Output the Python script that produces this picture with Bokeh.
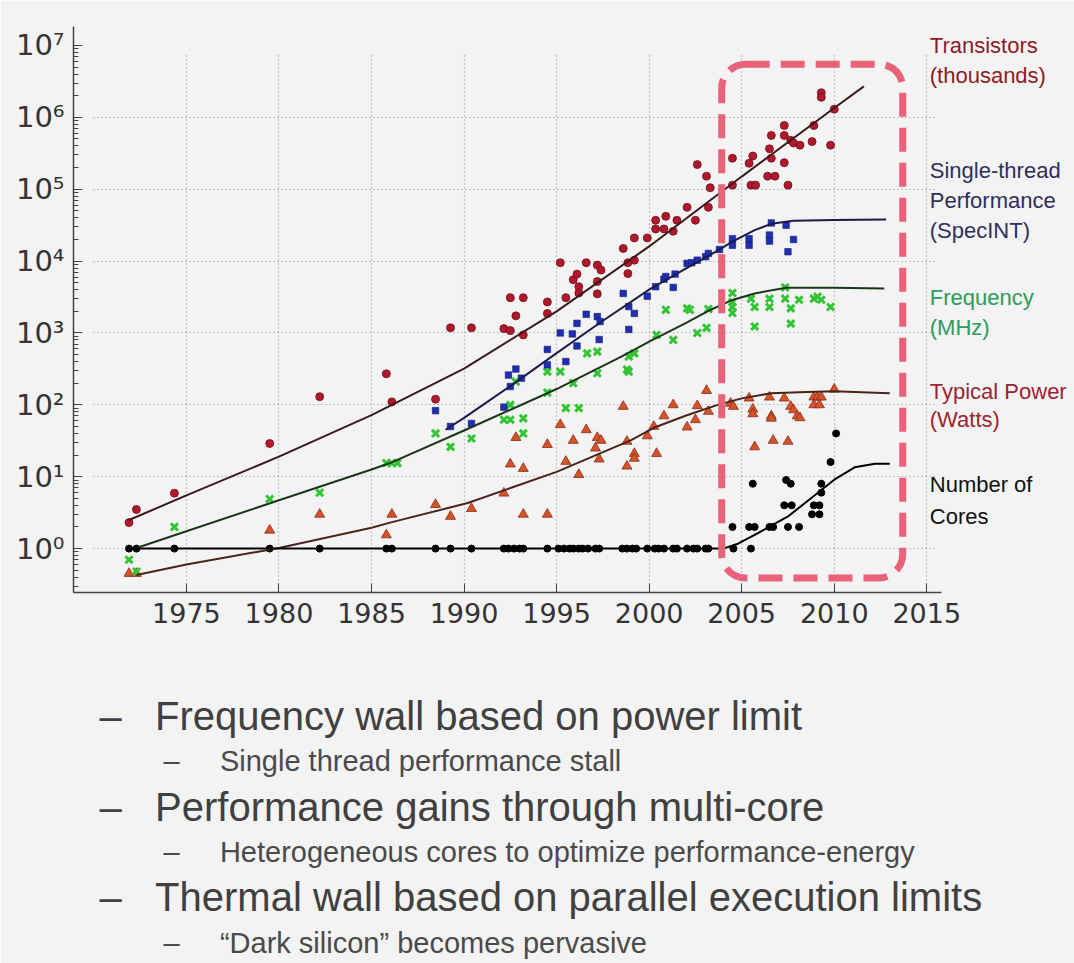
from bokeh.plotting import figure
from bokeh.models import FixedTicker, BoxAnnotation, Label, Range1d, Title, LinearAxis
from bokeh.embed import file_html
from bokeh.resources import INLINE

# ---------------- data ----------------
transistors = [
    (1971.9, 2.3), (1972.3, 3.5), (1974.35, 5.9), (1979.5, 29), (1982.2, 130), (1985.8, 270),
    (1986.1, 110), (1988.46, 120), (1989.27, 1180), (1990.4, 1180), (1992.15, 1150), (1992.5, 1080),
    (1993.2, 940), (1992.5, 3100), (1993.2, 3100), (1992.8, 1730), (1994.5, 2700), (1994.5, 1870),
    (1995.2, 9500), (1995.5, 3100), (1995.9, 5500), (1996.1, 6600), (1996.2, 4400), (1996.2, 3600),
    (1996.6, 9500), (1997.2, 8800), (1997.4, 7500), (1997.2, 5200), (1997.2, 3500), (1998.6, 15000),
    (1998.85, 9500), (1998.85, 6700), (1999.2, 21000), (1999.9, 21000), (1999.2, 10300),
    (2000.35, 37000), (2000.8, 28000), (2000.35, 28000), (2000.9, 42000), (2001.3, 26000),
    (2001.5, 37000), (2002.05, 56000), (2002.5, 37000), (2002.6, 220000), (2003.1, 152000),
    (2003.3, 105000), (2003.2, 56000), (2004.5, 270000), (2004.5, 114000), (2005.4, 230000),
    (2005.6, 290000), (2005.5, 114000), (2005.75, 114000), (2006.5, 365000), (2006.6, 270000),
    (2006.4, 152000), (2006.8, 152000), (2006.6, 560000), (2007.3, 770000), (2007.3, 560000),
    (2007.65, 480000), (2007.8, 440000), (2008.15, 410000), (2007.3, 234000), (2007.5, 114000),
    (2008.8, 460000), (2008.9, 770000), (2009.3, 2200000), (2009.3, 1900000), (2009.8, 410000),
    (2010.0, 1300000),
]
single_thread = [
    (1988.46, 83), (1989.27, 50), (1990.4, 55), (1992.4, 260), (1992.8, 315), (1993.1, 235),
    (1992.5, 180), (1992.15, 93), (1994.5, 360), (1995.5, 400), (1995.2, 1000), (1995.85, 970),
    (1996.1, 1360), (1996.6, 1820), (1997.2, 1690), (1997.35, 1440), (1996.1, 660), (1997.3, 810),
    (1994.5, 590), (1998.6, 3550), (1998.9, 2330), (1998.9, 1120), (1999.2, 1870), (1999.9, 3250),
    (2000.35, 4400), (2000.8, 5600), (2000.9, 6100), (2001.3, 4300), (2001.4, 6600), (2002.05, 9300),
    (2002.3, 9500), (2002.6, 10300), (2003.05, 11500), (2003.2, 12800), (2003.8, 14500),
    (2004.5, 20500), (2004.5, 16600), (2005.4, 20500), (2005.4, 16600), (2006.5, 23000),
    (2006.5, 19000), (2006.6, 34000), (2007.4, 31600), (2007.5, 13500), (2007.8, 20000),
]
frequency = [
    (1971.9, 0.7), (1972.3, 0.48), (1974.35, 2.0), (1979.5, 4.9), (1982.2, 6.0), (1985.8, 15.5),
    (1986.1, 15.5), (1986.4, 15.5), (1988.46, 40), (1989.27, 26), (1990.4, 34), (1992.15, 62),
    (1992.5, 62), (1992.5, 100), (1993.2, 65), (1993.2, 40), (1992.8, 210), (1994.5, 290),
    (1994.5, 148), (1995.2, 290), (1995.5, 90), (1996.2, 90), (1995.9, 200), (1996.65, 520),
    (1997.2, 550), (1997.2, 275), (1998.8, 310), (1998.9, 470), (1998.9, 290), (1999.2, 520),
    (2000.4, 940), (2001.3, 800), (2000.9, 2100), (2002.05, 2200), (2002.2, 2100), (2002.6, 1000),
    (2003.1, 1180), (2003.2, 2150), (2004.5, 3600), (2004.5, 2700), (2004.5, 2300), (2004.5, 1900),
    (2005.5, 3000), (2005.7, 2300), (2005.7, 1230), (2006.5, 3000), (2006.5, 2300), (2007.35, 4300),
    (2007.35, 3000), (2007.65, 2200), (2008.1, 2900), (2007.65, 1350), (2008.9, 3000),
    (2009.1, 3200), (2009.3, 2900), (2009.8, 2300),
]
power = [
    (1971.9, 0.45), (1972.3, 0.45), (1979.5, 1.8), (1982.2, 3.0), (1985.8, 1.55), (1986.1, 3.0),
    (1988.46, 4.1), (1989.27, 2.8), (1990.4, 3.6), (1992.15, 5.9), (1992.5, 15), (1993.2, 13),
    (1992.8, 35), (1993.2, 3.0), (1994.5, 28), (1994.5, 3.0), (1995.2, 53), (1995.5, 16.3),
    (1995.9, 32), (1996.2, 10.7), (1996.6, 45), (1997.1, 25), (1997.2, 35), (1997.4, 32),
    (1997.3, 17.6), (1998.6, 95), (1998.8, 31), (1998.8, 14), (1999.2, 21), (1999.2, 18),
    (1999.9, 37), (2000.4, 21), (2000.25, 50), (2000.8, 70), (2001.3, 100), (2002.05, 49),
    (2002.5, 62), (2002.6, 97), (2003.1, 158), (2003.2, 81), (2004.4, 105), (2004.55, 95),
    (2005.4, 124), (2005.6, 87), (2005.6, 75), (2005.7, 26), (2006.5, 128), (2006.6, 70),
    (2006.6, 65), (2006.7, 32), (2007.3, 124), (2007.5, 31), (2007.65, 95), (2007.8, 85),
    (2008.0, 70), (2008.15, 66), (2008.9, 128), (2009.1, 128), (2009.3, 128), (2008.9, 100),
    (2009.2, 100), (2010.0, 165),
]
cores = [
    (1971.9, 1), (1972.3, 1), (1974.35, 1), (1979.5, 1), (1982.2, 1), (1985.8, 1), (1986.1, 1),
    (1988.46, 1), (1989.27, 1), (1990.4, 1), (1992.15, 1), (1992.4, 1), (1992.7, 1), (1993.0, 1),
    (1993.2, 1), (1994.5, 1), (1995.1, 1), (1995.4, 1), (1995.7, 1), (1995.9, 1), (1996.2, 1),
    (1996.4, 1), (1996.7, 1), (1997.1, 1), (1997.3, 1), (1998.55, 1), (1998.8, 1), (1999.1, 1),
    (1999.3, 1), (1999.9, 1), (2000.3, 1), (2000.5, 1), (2000.8, 1), (2001.3, 1), (2001.5, 1),
    (2002.05, 1), (2002.4, 1), (2002.6, 1), (2003.05, 1), (2003.2, 1), (2004.55, 1), (2005.5, 1),
    (2004.5, 2), (2005.4, 2), (2005.7, 2), (2006.5, 2), (2006.7, 2), (2007.5, 2), (2008.1, 2),
    (2005.6, 8), (2007.4, 9), (2007.65, 8), (2007.3, 4), (2007.7, 4), (2008.9, 4), (2009.2, 4),
    (2008.8, 3), (2009.2, 3), (2009.3, 8), (2009.3, 6), (2009.8, 16), (2010.1, 40),
]

# trend curves
trans_trend = [(1971.9, 2.5), (1975, 5.5), (1980, 19), (1985, 72), (1990, 320), (1995, 2000),
               (2000, 16000), (2005, 150000), (2010, 1350000), (2011.6, 2700000)]
single_trend = [(1989.0, 45), (1990, 66), (1992.5, 182), (1995, 525), (1997.5, 1480), (2000, 4000),
                (2002, 7900), (2003.7, 14000), (2004.5, 18600), (2005.7, 27000), (2006.6, 33000),
                (2007.8, 36300), (2010, 37200), (2012.8, 38000)]
freq_trend = [(1972.3, 1.02), (1975, 1.74), (1980, 4.7), (1985, 12.6), (1986, 15.5), (1990, 44),
              (1995, 166), (1998.5, 470), (2000, 760), (2002, 1380), (2003.3, 2090), (2004.5, 2880),
              (2005.7, 3550), (2007.4, 4270), (2010, 4270), (2012.7, 4170)]
power_trend = [(1972.3, 0.43), (1975, 0.6), (1980, 1.02), (1985, 1.95), (1986, 2.3), (1990.2, 4.3),
               (1995, 11.7), (1999, 32), (2000.25, 48), (2002, 71), (2003.7, 100), (2005, 123),
               (2006.6, 145), (2008.5, 151), (2010, 155), (2013, 145)]
cores_trend = [(1971.9, 1), (2004.0, 1), (2004.8, 1.17), (2005.7, 1.55), (2007.5, 2.8),
               (2008.9, 5.4), (2010, 9.1), (2011.1, 13.5), (2012.2, 15.1), (2013, 15.1)]

x_ticks = [1975, 1980, 1985, 1990, 1995, 2000, 2005, 2010, 2015]
y_ticks = [1, 10, 100, 1000, 10000, 100000, 1000000, 10000000]
y_tick_labels = ["10⁰", "10¹", "10²", "10³", "10⁴", "10⁵", "10⁶", "10⁷"]

series_labels = [
    ["Transistors", "(thousands)"],
    ["Single-thread", "Performance", "(SpecINT)"],
    ["Frequency", "(MHz)"],
    ["Typical Power", "(Watts)"],
    ["Number of", "Cores"],
]

bullet_lines = [
    "Frequency wall based on power limit",
    "Single thread performance stall",
    "Performance gains through multi-core",
    "Heterogeneous cores to optimize performance-energy",
    "Thermal wall based on parallel execution limits",
    "\u201cDark silicon\u201d becomes pervasive",
]
bullet_levels = [1, 2, 1, 2, 1, 2]

# ---------------- styling ----------------
BG = "#f3f3f3"


def xs(pts):
    return [a for a, _ in pts]


def ys(pts):
    return [b for _, b in pts]


X0, X1 = 1968.9, 2015.8          # extent of the x axis
p = figure(width=1074, height=963, x_range=Range1d(X0, 2022.98),
           y_range=Range1d(0.245, 1.837e7), y_axis_type="log",
           output_backend="svg", toolbar_location=None, title=None,
           min_border_left=73, min_border_right=0, min_border_top=26, min_border_bottom=370)
p.background_fill_color = BG
p.border_fill_color = BG
p.outline_line_color = None

# axes
p.xaxis.ticker = FixedTicker(ticks=x_ticks, minor_ticks=[])
p.xaxis.bounds = (X0, X1)
minor = [k * 10.0 ** n for n in range(-1, 8) for k in range(2, 10)]
p.yaxis.ticker = FixedTicker(ticks=y_ticks, minor_ticks=minor)
p.yaxis.major_label_overrides = {t: lab for t, lab in zip(y_ticks, y_tick_labels)}
for ax in (p.xaxis, p.yaxis):
    ax.axis_line_color = "#444444"
    ax.axis_line_width = 1.5
    ax.major_tick_line_color = "#444444"
    ax.minor_tick_line_color = "#444444"
    ax.major_tick_in = 9
    ax.major_tick_out = 0
    ax.minor_tick_in = 5
    ax.minor_tick_out = 0
    ax.major_label_text_font = "DejaVu Sans"
    ax.major_label_text_color = "#333333"
p.xaxis.major_label_text_font_size = "27px"
p.yaxis.major_label_text_font_size = "29px"
p.xaxis.major_label_standoff = 10
p.yaxis.major_label_standoff = 9

# grids
p.xgrid.ticker = FixedTicker(ticks=x_ticks)
p.ygrid.ticker = FixedTicker(ticks=y_ticks[:-1])
try:
    p.ygrid.cross_bounds = (1970.0, 2015.4)
    p.xgrid.cross_bounds = (0.245, 10 ** 6.9)
except Exception:
    pass
for g in (p.xgrid, p.ygrid):
    g.grid_line_color = "#8a8a8a"
    g.grid_line_dash = "1 3"
    g.grid_line_width = 1.2
    g.grid_line_alpha = 0.9

# scatter points
p.scatter(xs(transistors), ys(transistors), marker="circle", size=8,
          fill_color="#b0182c", line_color="#6e0f1c", line_width=0.8)
p.scatter(xs(power), ys(power), marker="triangle", size=10,
          fill_color="#d4542a", line_color="#8c2a18", line_width=0.8)
p.scatter(xs(cores), ys(cores), marker="circle", size=7,
          fill_color="#000000", line_color="#000000")
p.scatter(xs(frequency), ys(frequency), marker="x", size=10,
          line_color="#33c433", line_width=3)
p.scatter(xs(single_thread), ys(single_thread), marker="square", size=6.5,
          fill_color="#1f2fb4", line_color="#101a70", line_width=0.6)

# trend lines
p.line(xs(trans_trend), ys(trans_trend), line_color="#3a1a1a", line_width=2)
p.line(xs(single_trend), ys(single_trend), line_color="#1c1c4a", line_width=2)
p.line(xs(freq_trend), ys(freq_trend), line_color="#1c361c", line_width=2)
p.line(xs(power_trend), ys(power_trend), line_color="#4a2418", line_width=2)
p.line(xs(cores_trend), ys(cores_trend), line_color="#000000", line_width=2)

# dashed highlight box
box = BoxAnnotation(left=2003.92, right=2013.7, bottom=0.39, top=10 ** 6.74,
                    fill_color=None, fill_alpha=0, line_color="#e8627a", line_alpha=1.0,
                    line_width=7, line_dash="24 11", border_radius=24)
p.add_layout(box)

# series labels on the right
label_colors = ["#8c1c24", "#2f2f5c", "#2e9a5c", "#9c2430", "#111111"]
label_y = [[10 ** 7.0, 10 ** 6.583],
           [10 ** 5.264, 10 ** 4.847, 10 ** 4.431],
           [10 ** 3.5, 10 ** 3.083],
           [10 ** 2.181, 10 ** 1.792],
           [10 ** 0.889, 10 ** 0.444]]
for lines, ys_, col in zip(series_labels, label_y, label_colors):
    for t, yy in zip(lines, ys_):
        p.add_layout(Label(x=2015.16, y=yy, text=t, text_font="Liberation Sans",
                           text_font_size="22px", text_color=col,
                           text_baseline="middle", text_align="left"))

# ---------------- bullet text (stacked titles below the axis) ----------------
# blank spacer band between the x axis and the bullet list: one tick drawn in the
# background colour, beyond the plotted axis extent, with an empty label
SPACER_TICK = 2020
spacer = LinearAxis(ticker=FixedTicker(ticks=[SPACER_TICK], minor_ticks=[]),
                    axis_line_color=None,
                    major_tick_line_color=BG, minor_tick_line_color=None,
                    major_tick_in=0, major_tick_out=66, minor_tick_in=0, minor_tick_out=0,
                    major_label_standoff=0, major_label_overrides={SPACER_TICK: ""},
                    major_label_text_font_size="1px")
p.add_layout(spacer, "below")

NB = "\u00a0"
gaps = [0, 10, 3, 6, 4, 9]      # vertical spacing around each bullet line (px)
for line, lvl, gap in zip(bullet_lines, bullet_levels, gaps):
    if lvl == 1:
        txt = "\u2013" + NB * 3 + line
        t = Title(text=txt, align="left", offset=26, text_font="Liberation Sans",
                  text_font_size="40px", text_color="#404040", text_font_style="normal",
                  standoff=gap)
    else:
        txt = "\u2013" + NB * 5 + line
        t = Title(text=txt, align="left", offset=90, text_font="Liberation Sans",
                  text_font_size="29px", text_color="#4a4a4a", text_font_style="normal",
                  standoff=gap)
    p.add_layout(t, "below")

open("out.html", "w").write(file_html(p, INLINE))
